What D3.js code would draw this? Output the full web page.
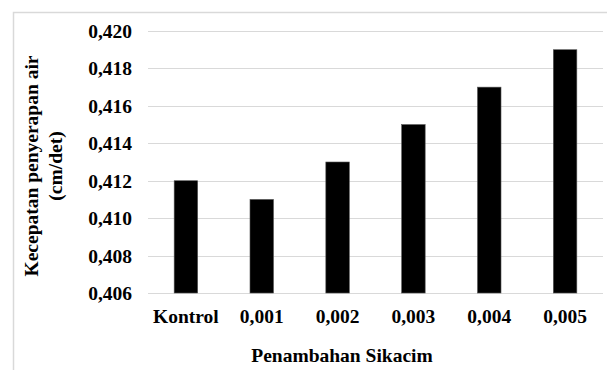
<!DOCTYPE html>
<html>
<head>
<meta charset="utf-8">
<script src="https://cdn.jsdelivr.net/npm/d3@7"></script>
<style>
  html, body { margin: 0; padding: 0; background: #fff; }
  svg { display: block; }
</style>
</head>
<body>
<div id="container"></div>
<script>
const categories = ["Kontrol", "0,001", "0,002", "0,003", "0,004", "0,005"];
const values = [0.412, 0.411, 0.413, 0.415, 0.417, 0.419];
const yTicks = [0.406, 0.408, 0.410, 0.412, 0.414, 0.416, 0.418, 0.420];
const yTitle = ["Kecepatan penyerapan air", "(cm/det)"];
const xTitle = "Penambahan Sikacim";

const width = 607, height = 370;
const fs = 19.5;
const font = "'Liberation Serif', monospace";

const svg = d3.select("#container").append("svg")
    .attr("width", width)
    .attr("height", height)
    .style("font-family", font)
    .style("font-weight", "bold");

// outer frame (only left and top visible)
svg.append("path")
    .attr("d", `M13.5,${height} V12.5 H${width}`)
    .attr("fill", "none")
    .attr("stroke", "#d9d9d9")
    .attr("stroke-width", 1.5);

const x = d3.scaleBand()
    .domain(categories)
    .range([148, 603])
    .paddingInner(0.69)
    .paddingOuter(0.345);

const y = d3.scaleLinear()
    .domain([0.406, 0.420])
    .range([293, 31]);

const fmt = v => d3.format(".3f")(v).replace(".", ",");

// gridlines
svg.append("g")
    .selectAll("line")
    .data(yTicks)
    .join("line")
    .attr("x1", 148)
    .attr("x2", 603)
    .attr("y1", d => Math.round(y(d)) + 0.5)
    .attr("y2", d => Math.round(y(d)) + 0.5)
    .attr("stroke", "#d9d9d9")
    .attr("stroke-width", 1);

// y tick labels
svg.append("g")
    .selectAll("text")
    .data(yTicks)
    .join("text")
    .attr("x", 132)
    .attr("y", d => y(d) + 7)
    .attr("text-anchor", "end")
    .style("font-size", fs + "px")
    .style("font-family", font)
    .text(fmt);

// bars
svg.append("g")
    .selectAll("rect")
    .data(values)
    .join("rect")
    .attr("x", (d, i) => x(categories[i]))
    .attr("width", x.bandwidth())
    .attr("y", d => y(d))
    .attr("height", d => y(0.406) - y(d))
    .attr("fill", "#000")
    .attr("stroke", "#555")
    .attr("stroke-width", 0.6);

// x labels
svg.append("g")
    .selectAll("text")
    .data(categories)
    .join("text")
    .attr("x", d => x(d) + x.bandwidth() / 2)
    .attr("y", 323)
    .attr("text-anchor", "middle")
    .style("font-size", fs + "px")
    .style("font-family", font)
    .text(d => d);

// axis titles
svg.append("text")
    .attr("x", 342)
    .attr("y", 362)
    .attr("text-anchor", "middle")
    .style("font-size", fs + "px")
    .style("font-family", font)
    .text(xTitle);

const yt = svg.append("text")
    .attr("transform", "translate(38,166) rotate(-90)")
    .attr("text-anchor", "middle")
    .style("font-size", fs + "px")
    .style("font-family", font);
yTitle.forEach((t, i) => {
    yt.append("tspan")
        .attr("x", 0)
        .attr("y", i * 24)
        .text(t);
});
</script>
</body>
</html>
